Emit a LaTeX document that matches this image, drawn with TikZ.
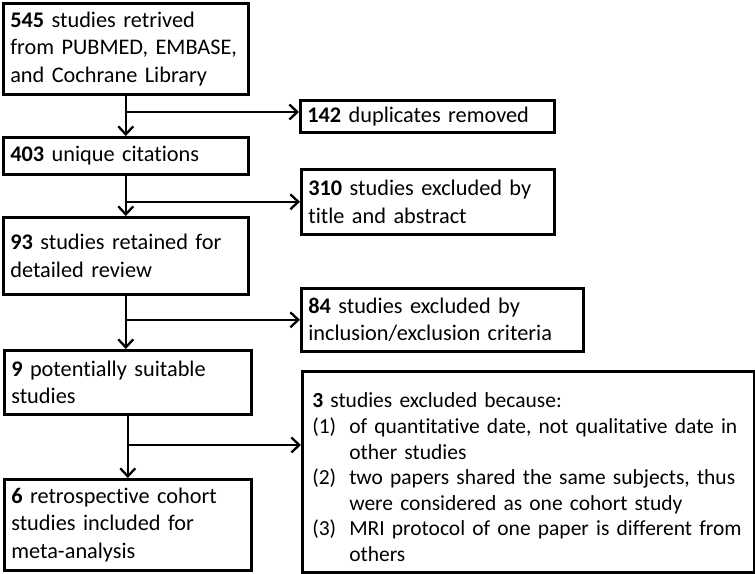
\documentclass[tikz,border=0pt]{standalone}
\usepackage{fontspec}
\setmainfont{Carlito}[Ligatures=NoCommon]
\usetikzlibrary{arrows.meta}
\tikzset{
  box/.style={draw=black, line width=2.6pt, anchor=north west, align=left,
    inner xsep=7pt, inner ysep=0pt, font=\fontsize{22.3}{27.3}\selectfont},
  conn/.style={line width=2.3pt, -{Straight Barb[length=8pt,width=15pt,line width=2.3pt]}},
}
\newcommand{\bx}[5]{%
  \node[box, minimum width=#4pt, minimum height=#5pt, text width=#4pt-10pt] (#1) at (#2,#3)}
\begin{document}
\begin{tikzpicture}[x=1pt,y=-1pt]
\useasboundingbox (0,0) rectangle (755,573);
\bx{b1}{2}{2}{241}{91}{\textbf{545} studies retrived\\from PUBMED, EMBASE,\\and Cochrane Library};
\bx{b142}{299}{99}{250}{32}{\textbf{142} duplicates removed};
\bx{b403}{2}{136}{241}{37}{\textbf{403} unique citations};
\bx{b310}{300}{168}{249}{65}{\textbf{310} studies excluded by\\title and abstract};
\bx{b93}{2}{216}{241}{77}{\textbf{93} studies retained for\\detailed review};
\bx{b84}{300}{287}{278}{63}{\textbf{84} studies excluded by\\inclusion/exclusion criteria};
\bx{b9}{3}{349}{243}{64}{\textbf{9} potentially suitable\\studies};
\bx{b6}{3}{478}{243}{91}{\textbf{6} retrospective cohort\\studies included for\\meta-analysis};
\node[box, minimum width=452pt, minimum height=201pt, text width=440pt, inner xsep=6pt,
  font=\fontsize{21.5}{25.6}\selectfont] (b3) at (301,370)
  {\rule{0pt}{26pt}\hspace*{4pt}\textbf{3} studies excluded because:\\
   \hspace*{4pt}\makebox[37pt][l]{(1)}of quantitative date, not qualitative date in\\
   \hspace*{41pt}other studies\\
   \hspace*{4pt}\makebox[37pt][l]{(2)}two papers shared the same subjects, thus\\
   \hspace*{41pt}were considered as one cohort study\\
   \hspace*{4pt}\makebox[37pt][l]{(3)}MRI protocol of one paper is different from\\
   \hspace*{41pt}others};
% trunk connectors
\draw[conn] (b1.south) -- (b1.south |- b403.north);
\draw[conn] (b403.south) -- (b403.south |- b93.north);
\draw[conn] (b93.south) -- (b93.south |- b9.north);
\draw[conn] (b9.south) -- (b9.south |- b6.north);
% branches
\coordinate (j1) at (b1.south |- 0,112);
\draw[conn] (j1) -- (j1 -| b142.west);
\coordinate (j2) at (b403.south |- b310.west);
\draw[conn] (j2) -- (b310.west);
\coordinate (j3) at (b93.south |- b84.west);
\draw[conn] (j3) -- (b84.west);
\coordinate (j4) at (b9.south |- 0,445);
\draw[conn] (j4) -- (j4 -| b3.west);
\end{tikzpicture}
\end{document}
